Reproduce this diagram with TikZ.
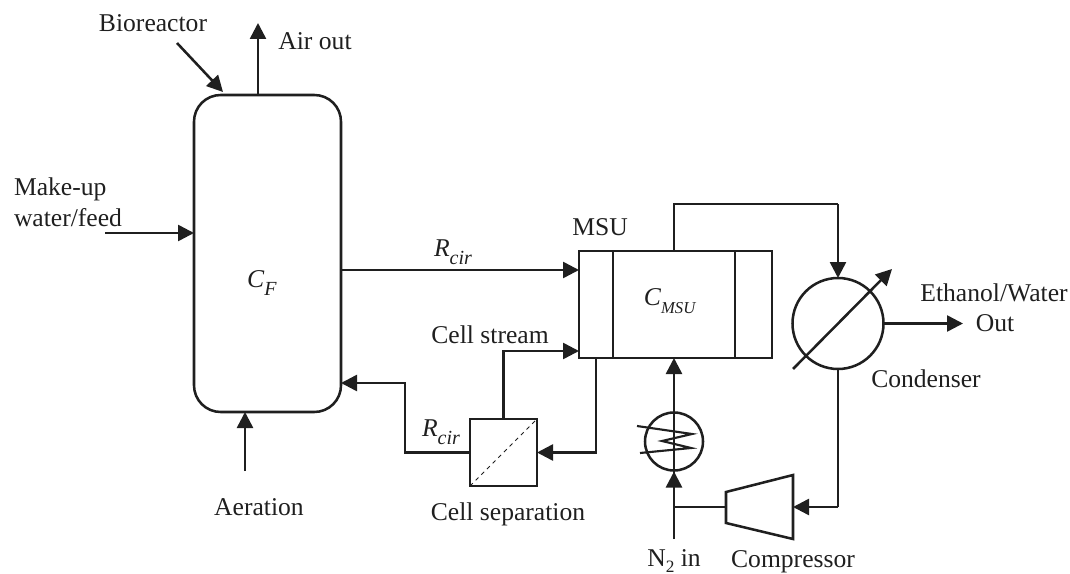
\documentclass[tikz,border=0pt]{standalone}
\usepackage{fontspec}
\setmainfont{Liberation Serif}
\usetikzlibrary{arrows.meta,calc}
\newcommand{\subvar}[3][15]{\textit{#2}\raisebox{-.3em}{\fontsize{#1}{15}\selectfont\textit{#3}}}
\tikzset{
  x=0.75pt,y=-0.75pt,
  every node/.style={font=\fontsize{19.2}{22}\selectfont,text=black!88,inner sep=0,outer sep=0},
  ln/.style={line width=1.9pt,draw=black!88,line join=miter},
  arr/.style={ln,-{Triangle[length=12pt,width=12pt]}},
  unit/.style={ln,draw,rectangle,inner sep=0,outer sep=0},
  vessel/.style={unit,rounded corners=20pt},
  lbl/.style={anchor=center}
}
\begin{document}
\begin{tikzpicture}
\useasboundingbox (0,0) rectangle (1070,574);
% units
\node[vessel,minimum width=110.25pt,minimum height=237.75pt] (bio) at (267.5,253.5) {};
\node[unit,minimum width=144.75pt,minimum height=80.25pt] (msu) at (675.5,304.5) {};
\node[unit,minimum width=91.5pt,minimum height=80.25pt] (core) at (674,304.5) {};
\node[unit,circle,minimum size=68.25pt] (cond) at (838,323.5) {};
\node[unit,minimum size=50.25pt] (sep) at (503.5,452.5) {};
\node[unit,circle,minimum size=43.5pt] (hx) at (674,441.5) {};
\coordinate (compIn) at (793,507);
\coordinate (compOut) at (726,507);
\draw[ln] (726,492) -- (793,475) -- (793,539) -- (726,523) -- cycle;
% internal details
\draw[line width=.7pt,dashed,draw=black!88] (sep.south west) -- (sep.north east);
% coordinates
\coordinate (airTop) at (258,23);
\coordinate (bioTip) at (177,43);
\coordinate (bioEnd) at (223,92);
\coordinate (feedStart) at (105,233);
\coordinate (aerStart) at (245,471);
\coordinate (nIn) at (674,539);
\coordinate (prodEnd) at (963,323.5);
\coordinate (diagA) at (793,369);
\coordinate (diagB) at (892,269);
% connectors
\draw[arr] (258,95) -- (airTop);
\draw[arr] (bioTip) -- (bioEnd);
\draw[arr] (feedStart) -- (bio.west |- feedStart);
\draw[arr] (aerStart) -- (aerStart |- bio.south);
\draw[arr] (bio.east |- 0,270) -- (msu.west |- 0,270);
\draw[arr] (sep.north) |- (msu.west |- 0,351);
\draw[arr] (596,358) -- (596,452.5) -- (sep.east);
\draw[arr] (sep.west) -- (405,452.5) -- (405,383) -- (bio.east |- 0,383);
\draw[ln] (674,251) -- (674,204) -- (838,204);
\draw[arr] (838,204) -- (cond.north);
\draw[arr] (cond.east) -- (prodEnd);
\draw[arr] (diagA) -- (diagB);
\draw[ln] (cond.south) -- (838,507);
\draw[arr] (838,507) -- (compIn);
\draw[ln] (compOut) -- (674,507);
\draw[ln] (nIn) -- (hx.south);
\draw[ln] (hx.south) -- (hx.north);
\draw[arr] (674,507) -- (674,471.5);
\draw[arr] (hx.north) -- (msu.south -| hx.north);
\draw[ln,line width=1.6pt] (637,426) -- (692,434) -- (662,441) -- (691,448) -- (640,453);
% labels
\node[lbl] (tBio) at (153,23) {Bioreactor};
\node[lbl] (tAir) at (315,41) {Air out};
\node[anchor=west] (tMk) at (14,189) {Make-up};
\node[anchor=west] (tWf) at (14,218) {water/feed};
\node[lbl] (tCf) at (262,283) {\subvar{C}{F}};
\node[lbl] (tR1) at (453,252) {\subvar{R}{cir}};
\node[lbl] (tMsu) at (600,227) {MSU};
\node[lbl] (tCm) at (670,301) {\subvar[12.5]{C}{MSU}};
\node[lbl] (tCs) at (490,335) {Cell stream};
\node[lbl] (tR2) at (441,432) {\subvar{R}{cir}};
\node[lbl] (tSep) at (508,514) {Cell separation};
\node[lbl] (tAer) at (259,507) {Aeration};
\node[lbl] (tN) at (674,561) {N\raisebox{-.2em}{\fontsize{13}{14}\selectfont 2} in};
\node[lbl] (tComp) at (793,562) {Compressor};
\node[lbl] (tCond) at (926,379) {Condenser};
\node[lbl] (tEth) at (994,293) {Ethanol/Water};
\node[lbl] (tOut) at (995,323) {Out};
\end{tikzpicture}
\end{document}
